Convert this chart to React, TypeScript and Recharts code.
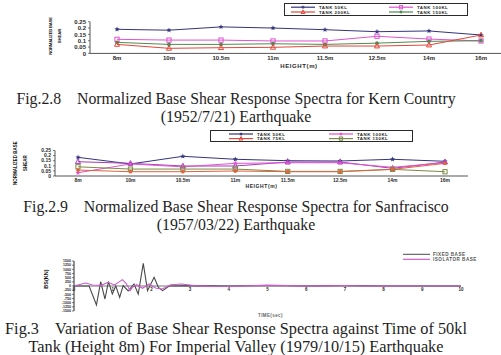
import React from 'react';
import { LineChart, Line, XAxis, YAxis, ReferenceLine } from 'recharts';

// ---- data ----
const HEIGHTS = ['8m', '10m', '10.5m', '11m', '11.5m', '12.5m', '14m', '16m'];
const SPECTRA_TICKS = [0, 0.05, 0.1, 0.15, 0.2, 0.25];

// Fig.2.8 Kern County
const KERN_50 = [0.19, 0.183, 0.209, 0.2, 0.187, 0.171, 0.177, 0.145];
const KERN_100 = [0.111, 0.105, 0.105, 0.098, 0.098, 0.135, 0.113, 0.098];
const KERN_150 = [0.087, 0.071, 0.071, 0.076, 0.071, 0.081, 0.095, 0.1];
const KERN_200 = [0.071, 0.04, 0.045, 0.048, 0.058, 0.058, 0.066, 0.145];

// Fig.2.9 San Francisco
const SF_50 = [0.183, 0.118, 0.193, 0.164, 0.15, 0.147, 0.164, 0.144];
const SF_75 = [0.14, 0.124, 0.098, 0.098, 0.137, 0.137, 0.075, 0.137];
const SF_100 = [0.032, 0.118, 0.09, 0.124, 0.13, 0.13, 0.085, 0.13];
const SF_150 = [0.09, 0.068, 0.068, 0.068, 0.045, 0.045, 0.065, 0.042];
const SF_200 = [0.058, 0.042, 0.042, 0.049, 0.042, 0.042, 0.065, 0.124];

// Fig.3 time history
const TIME_TICKS = [0, 1, 2, 3, 4, 5, 6, 7, 8, 9, 10];
const BS_TICKS = [1500, 1250, 1000, 750, 500, 250, 0, -250, -500, -750, -1000, -1250, -1500];
const FIXED_T = [0, 0.39, 0.58, 0.69, 0.8, 0.89, 0.99, 1.08, 1.18, 1.27, 1.4, 1.55, 1.66, 1.79, 1.9, 2.07, 2.18, 2.29, 2.46, 3, 4, 5, 6, 7, 8, 9, 10];
const FIXED_V = [0, 0, -1140, 260, -780, 260, -480, 0, -680, 20, -300, 120, -480, 1360, -280, 520, -80, -280, 0, 20, 0, 30, 0, 20, 0, 0, 0];
const ISO_T = [0, 0.3, 0.48, 0.7, 0.88, 1.05, 1.25, 1.35, 1.45, 1.52, 1.62, 1.77, 1.94, 2.12, 2.28, 2.5, 2.78, 3.1, 3.5, 4, 4.5, 5, 5.5, 6, 6.5, 7, 7.5, 8, 9, 10];
const ISO_V = [0, 180, 60, 40, 220, 60, 380, 150, -280, -60, 80, -140, 120, -140, -180, 80, 120, 20, -20, -30, 10, 50, 20, -10, 10, 30, 0, -10, 0, 0];

const NAVY = '#34357c';
const PINK = '#e052d2';
const PURPLE = '#a33cb6';
const GREEN = '#4f8a4f';
const OLIVE = '#7d8a45';
const RED = '#e2473a';
const ORANGE = '#e0643e';
const GRAY = '#4a4a4a';
const ISO = '#cc5ccc';
const INK = '#2a2a2a';

const KERN_SERIES = [
    { key: 'k50', name: 'TANK 50KL', values: KERN_50, color: NAVY, shape: 'star' },
    { key: 'k100', name: 'TANK 100KL', values: KERN_100, color: PINK, shape: 'square' },
    { key: 'k150', name: 'TANK 150KL', values: KERN_150, color: GREEN, shape: 'dot' },
    { key: 'k200', name: 'TANK 200KL', values: KERN_200, color: RED, shape: 'triangle' },
];
const SF_SERIES = [
    { key: 's50', name: 'TANK 50KL', values: SF_50, color: NAVY, shape: 'star' },
    { key: 's75', name: 'TANK 75KL', values: SF_75, color: PURPLE, shape: 'triangle' },
    { key: 's100', name: 'TANK 100KL', values: SF_100, color: PINK, shape: 'star' },
    { key: 's150', name: 'TANK 150KL', values: SF_150, color: OLIVE, shape: 'square' },
    { key: 's200', name: 'TANK 200KL', values: SF_200, color: ORANGE, shape: 'dot' },
];

const kernData = HEIGHTS.map((h, i) => {
    const row: Record<string, string | number> = { h };
    KERN_SERIES.forEach((s) => (row[s.key] = s.values[i]));
    return row;
});
const sfData = HEIGHTS.map((h, i) => {
    const row: Record<string, string | number> = { h };
    SF_SERIES.forEach((s) => (row[s.key] = s.values[i]));
    return row;
});
const fixedData = FIXED_T.map((t, i) => ({ t, v: FIXED_V[i] }));
const isoData = ISO_T.map((t, i) => ({ t, v: ISO_V[i] }));

const SANS = '"Liberation Sans", Arial, sans-serif';
const SERIF = '"Liberation Serif", "Times New Roman", serif';

// eslint-disable-next-line @typescript-eslint/no-explicit-any
function Marker({ cx, cy, shape, color, s = 2.1 }: any) {
    if (cx == null || cy == null) return null;
    if (shape === 'square') {
        return <rect x={cx - s} y={cy - s} width={s * 2} height={s * 2} fill="none" stroke={color} strokeWidth={1} />;
    }
    if (shape === 'triangle') {
        return <path d={`M${cx},${cy - s * 1.3}L${cx + s * 1.2},${cy + s * 0.9}L${cx - s * 1.2},${cy + s * 0.9}Z`} fill="none" stroke={color} strokeWidth={1} />;
    }
    if (shape === 'star') {
        const pts: string[] = [];
        for (let k = 0; k < 10; k++) {
            const r = k % 2 === 0 ? s * 1.3 : s * 0.55;
            const a = -Math.PI / 2 + (k * Math.PI) / 5;
            pts.push(`${cx + r * Math.cos(a)},${cy + r * Math.sin(a)}`);
        }
        return <polygon points={pts.join(' ')} fill={color} />;
    }
    return <circle cx={cx} cy={cy} r={s * 0.9} fill={color} />;
}

const spectraTick = { fontSize: 6, fill: INK, fontFamily: SANS, fontWeight: 700 };

// eslint-disable-next-line @typescript-eslint/no-explicit-any
function SpectraChart({ data, series, width, height, yWidth, top, axisH, pad, fontSize }: any) {
    const tick = { ...spectraTick, fontSize };
    return (
        <LineChart width={width} height={height} data={data} margin={{ top, right: 12, left: 0, bottom: 0 }}>
            <XAxis
                dataKey="h"
                padding={{ left: pad, right: pad }}
                tick={tick}
                tickLine={false}
                tickSize={1}
                tickMargin={1}
                axisLine={{ stroke: INK, strokeWidth: 0.8 }}
                height={axisH}
                label={{ value: 'HEIGHT(m)', position: 'insideBottom', offset: 4, style: { ...tick, letterSpacing: 0.6 } }}
            />
            <YAxis
                width={yWidth}
                domain={[0, 0.25]}
                ticks={SPECTRA_TICKS}
                tick={tick}
                tickSize={2}
                tickMargin={2}
                axisLine={{ stroke: INK, strokeWidth: 0.8 }}
                tickLine={{ stroke: INK, strokeWidth: 0.6 }}
                interval={0}
            />
            {/* eslint-disable-next-line @typescript-eslint/no-explicit-any */}
            {series.map((s: any) => (
                <Line
                    key={s.key}
                    dataKey={s.key}
                    name={s.name}
                    stroke={s.color}
                    strokeWidth={1}
                    isAnimationActive={false}
                    // eslint-disable-next-line @typescript-eslint/no-explicit-any
                    dot={(p: any) => <Marker key={`${s.key}-${p.index}`} cx={p.cx} cy={p.cy} shape={s.shape} color={s.color} />}
                />
            ))}
        </LineChart>
    );
}

// eslint-disable-next-line @typescript-eslint/no-explicit-any
function LegendBox({ left, top, width, height, rows }: any) {
    return (
        <div style={{ position: 'absolute', left, top, width, height, border: `1px solid ${INK}`, background: '#fff', overflow: 'hidden' }}>
            <svg width={width} height={height} style={{ position: 'absolute', left: 0, top: 0 }}>
                {/* eslint-disable-next-line @typescript-eslint/no-explicit-any */}
                {rows.map((r: any, i: number) => (
                    <g key={i}>
                        <line x1={r.x} x2={r.x + 24} y1={r.y} y2={r.y} stroke={r.color} strokeWidth={1.2} />
                        <Marker cx={r.x + 12} cy={r.y} shape={r.shape} color={r.color} s={1.6} />
                        <text x={r.x + 28} y={r.y + 1.5} fontSize={4.4} fontFamily={SANS} fontWeight={700} fill={INK} letterSpacing={0.5}>
                            {r.name}
                        </text>
                    </g>
                ))}
            </svg>
        </div>
    );
}

// eslint-disable-next-line @typescript-eslint/no-explicit-any
function Caption({ top, lines, size = 15.8 }: any) {
    return (
        <div style={{ position: 'absolute', left: 0, top, width: 472, textAlign: 'center', fontFamily: SERIF, fontSize: size, lineHeight: '17.5px', color: '#1e1e1e', whiteSpace: 'pre' }}>
            {/* eslint-disable-next-line @typescript-eslint/no-explicit-any */}
            {lines.map((l: string, i: number) => (
                <div key={i}>{l}</div>
            ))}
        </div>
    );
}

// eslint-disable-next-line @typescript-eslint/no-explicit-any
function VLabel({ x, y, text, size = 5, spacing = 0 }: any) {
    return (
        <div style={{ position: 'absolute', left: x, top: y, transform: 'translate(-50%, -50%) rotate(-90deg)', fontFamily: SANS, fontWeight: 700, fontSize: size, letterSpacing: spacing, color: '#111', whiteSpace: 'nowrap', lineHeight: 1 }}>
            {text}
        </div>
    );
}

const PLOT3_TOP = 11;
const PLOT3_H = 50;

// eslint-disable-next-line @typescript-eslint/no-explicit-any
const TimeTick = ({ x, y, payload }: any) => (
    <text x={x} y={y - PLOT3_H / 2 + 5} textAnchor="middle" fontSize={4.5} fontFamily={SANS} fontWeight={700} fill={INK}>
        {payload.value}
    </text>
);

export default function App() {
    const kernRows = [
        { ...KERN_SERIES[0], x: 6, y: 3.2 },
        { ...KERN_SERIES[1], x: 104, y: 3.2 },
        { ...KERN_SERIES[3], x: 6, y: 8 },
        { ...KERN_SERIES[2], x: 104, y: 8 },
    ];
    const sfRows = [
        { ...SF_SERIES[0], x: 18, y: 3 },
        { ...SF_SERIES[2], x: 118, y: 3 },
        { ...SF_SERIES[1], color: RED, x: 18, y: 7.6 },
        { ...SF_SERIES[3], x: 118, y: 7.6 },
    ];

    return (
        <div style={{ position: 'absolute', left: 0, top: 0, width: 501, height: 355, overflow: 'hidden', background: '#fff' }}>
            {/* Fig 2.8 */}
            <div style={{ position: 'absolute', left: 0, top: 0 }}>
                <SpectraChart data={kernData} series={KERN_SERIES} width={520} height={72} yWidth={90} top={21.7} axisH={18.6} pad={27} fontSize={6} />
            </div>
            <VLabel x={51} y={36} text="NORMALIZED BASE" size={4.2} spacing={-0.2} />
            <VLabel x={60} y={36} text="SHEAR" size={4.2} />
            <LegendBox left={284} top={3} width={182} height={11} rows={kernRows} />
            <Caption top={90} lines={['Fig.2.8    Normalized Base Shear Response Spectra for Kern Country', '(1952/7/21) Earthquake']} />

            {/* Fig 2.9 */}
            <div style={{ position: 'absolute', left: 0, top: 140 }}>
                <SpectraChart data={sfData} series={SF_SERIES} width={480} height={52} yWidth={55} top={10.5} axisH={16} pad={23} fontSize={5} />
            </div>
            <VLabel x={16} y={163} text="NORMALIZED BASE" size={4.5} />
            <VLabel x={26} y={163} text="SHEAR" size={4.5} />
            <LegendBox left={210} top={130} width={201} height={10} rows={sfRows} />
            <Caption top={198} lines={['Fig.2.9    Normalized Base Shear Response Spectra for Sanfracisco', '(1957/03/22) Earthquake']} />

            {/* Fig 3 */}
            <div style={{ position: 'absolute', left: 0, top: 250 }}>
                <LineChart width={491} height={75} margin={{ top: PLOT3_TOP, right: 30, left: 0, bottom: 0 }}>
                    <XAxis
                        type="number"
                        dataKey="t"
                        domain={[0, 10]}
                        ticks={TIME_TICKS}
                        tick={<TimeTick />}
                        tickLine={false}
                        tickSize={0}
                        tickMargin={0}
                        axisLine={false}
                        height={75 - PLOT3_TOP - PLOT3_H}
                        allowDuplicatedCategory={false}
                    />
                    <YAxis
                        width={74}
                        domain={[-1500, 1500]}
                        ticks={BS_TICKS}
                        interval={0}
                        tick={{ fontSize: 3.6, fill: INK, fontFamily: SANS, fontWeight: 700 }}
                        tickSize={2}
                        tickMargin={1}
                        axisLine={{ stroke: INK, strokeWidth: 1 }}
                        tickLine={{ stroke: INK, strokeWidth: 0.6 }}
                    />
                    <ReferenceLine y={0} stroke="#555" strokeWidth={0.8} />
                    <Line data={fixedData} dataKey="v" type="linear" stroke={GRAY} strokeWidth={1.1} dot={false} isAnimationActive={false} name="FIXED BASE" />
                    <Line data={isoData} dataKey="v" type="linear" stroke={ISO} strokeWidth={1.1} dot={false} isAnimationActive={false} name="ISOLATOR BASE" />
                </LineChart>
            </div>
            <VLabel x={47} y={279} text="BS(KN)" size={5.5} />
            <div style={{ position: 'absolute', left: 258, top: 312.5, fontFamily: SANS, fontWeight: 700, fontSize: 4.5, color: '#666', letterSpacing: 0.4 }}>TIME(sec)</div>
            <svg width={90} height={12} style={{ position: 'absolute', left: 402, top: 250 }}>
                <line x1={1} x2={28} y1={4.3} y2={4.3} stroke={GRAY} strokeWidth={1} />
                <line x1={1} x2={28} y1={9.3} y2={9.3} stroke={ISO} strokeWidth={1.2} />
                <text x={31} y={6} fontSize={4.6} fontFamily={SANS} fontWeight={700} fill="#555" letterSpacing={0.5}>FIXED BASE</text>
                <text x={31} y={11} fontSize={4.6} fontFamily={SANS} fontWeight={700} fill="#555" letterSpacing={0.5}>ISOLATOR BASE</text>
            </svg>
            <Caption top={320} size={16.3} lines={['Fig.3    Variation of Base Shear Response Spectra against Time of 50kl', 'Tank (Height 8m) For Imperial Valley (1979/10/15) Earthquake']} />
        </div>
    );
}
